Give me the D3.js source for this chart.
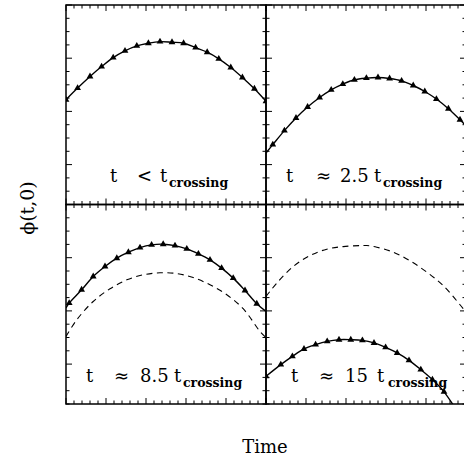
<!DOCTYPE html>
<html><head><meta charset="utf-8">
<script src="https://cdn.jsdelivr.net/npm/d3@7"></script>
<style>html,body{margin:0;padding:0;background:#fff;overflow:hidden}</style>
</head><body>
<svg id="c" width="464" height="462"></svg>
<script>
// Panel A: t < t_crossing (solid with triangles)
const aX = [0, 0.29, 0.6, 0.89, 1.18, 1.475, 1.77, 2.06, 2.35, 2.65, 2.94, 3.24, 3.53, 3.82, 4.12, 4.41, 4.71, 5.0];
const aY = [2.22, 2.438, 2.656, 2.843, 3.012, 3.138, 3.231, 3.282, 3.312, 3.30, 3.282, 3.199, 3.113, 2.988, 2.826, 2.638, 2.425, 2.19];
// Panel B: t ~ 2.5 t_crossing
const bX = [0.17, 0.46, 0.75, 1.04, 1.34, 1.63, 1.92, 2.21, 2.51, 2.80, 3.09, 3.39, 3.68, 3.97, 4.26, 4.56, 4.85];
const bY = [1.375, 1.638, 1.876, 2.082, 2.262, 2.406, 2.513, 2.594, 2.626, 2.637, 2.618, 2.575, 2.487, 2.374, 2.232, 2.05, 1.844];
const bLineX = [0, 5];
const bLineY = [1.219, 1.73];
// Panel C: t ~ 8.5 t_crossing
const cX = [0.08, 0.39, 0.68, 0.975, 1.27, 1.56, 1.85, 2.14, 2.43, 2.725, 3.02, 3.31, 3.6, 3.89, 4.18, 4.475, 4.77];
const cY = [2.147, 2.397, 2.646, 2.834, 2.991, 3.104, 3.19, 3.241, 3.254, 3.227, 3.166, 3.072, 2.959, 2.804, 2.616, 2.384, 2.134];
const cLineX = [0, 5];
const cLineY = [2.054, 1.99];
const cDashX = [0, 0.27, 0.68, 1.1, 1.52, 1.93, 2.35, 2.77, 3.18, 3.6, 4.02, 4.43, 4.85, 5.0];
const cDashY = [1.521, 1.834, 2.177, 2.416, 2.584, 2.678, 2.716, 2.702, 2.627, 2.491, 2.303, 2.041, 1.615, 1.5];
// Panel D: t ~ 15 t_crossing
const dX = [0, 0.37, 0.66, 0.95, 1.24, 1.53, 1.825, 2.12, 2.41, 2.7, 2.99, 3.28, 3.575, 3.87, 4.16, 4.45];
const dY = [0.771, 0.991, 1.146, 1.285, 1.366, 1.427, 1.459, 1.459, 1.446, 1.398, 1.315, 1.21, 1.071, 0.897, 0.709, 0.479];
const dLineX = [4.75];
const dLineY = [0.15];
const dDashX = [0, 0.27, 0.68, 1.1, 1.52, 1.93, 2.35, 2.52, 2.77, 3.18, 3.6, 4.02, 4.43, 4.85, 5.0];
const dDashY = [2.271, 2.523, 2.834, 3.04, 3.16, 3.209, 3.228, 3.228, 3.197, 3.104, 2.941, 2.729, 2.477, 2.116, 1.975];

const labels = [
  {t: "t", rel: "<", num: "", sub: "crossing"},
  {t: "t", rel: "\u2248", num: "2.5", sub: "crossing"},
  {t: "t", rel: "\u2248", num: "8.5", sub: "crossing"},
  {t: "t", rel: "\u2248", num: "15", sub: "crossing"}
];
const xLabel = "Time";
const yLabel = "\u03d5(t,0)";

// label piece positions (px from panel left): t, relation, number, t, subscript
const labPos = [
  [44, 71, 0, 94, 103],
  [20, 50, 74, 108, 117],
  [20, 48, 74, 108, 117],
  [25, 53, 79, 111, 122]
];

const zip = (xs, ys) => xs.map((x, i) => [x, ys[i]]);
const panels = [
  {col: 0, row: 0, markers: zip(aX, aY), solid: zip(aX, aY), dash: null, lab: labels[0]},
  {col: 1, row: 0, markers: zip(bX, bY), solid: zip(bLineX.slice(0,1).concat(bX, bLineX.slice(1)), bLineY.slice(0,1).concat(bY, bLineY.slice(1))), dash: null, lab: labels[1]},
  {col: 0, row: 1, markers: zip(cX, cY), solid: zip(cLineX.slice(0,1).concat(cX, cLineX.slice(1)), cLineY.slice(0,1).concat(cY, cLineY.slice(1))), dash: zip(cDashX, cDashY), lab: labels[2]},
  {col: 1, row: 1, markers: zip(dX, dY), solid: zip(dX.concat(dLineX), dY.concat(dLineY)), dash: zip(dDashX, dDashY), lab: labels[3]}
];

const svg = d3.select("#c");
const L = 66, T = 5, PW = 200, PH = 199.5;
const font = "'DejaVu Serif', serif";

const defs = svg.append("defs");
panels.forEach((p, i) => {
  defs.append("clipPath").attr("id", "clip" + i).append("rect")
    .attr("x", 0).attr("y", 0).attr("width", PW).attr("height", PH);
});

const x = d3.scaleLinear().domain([0, 5]).range([0, PW]);
const y = d3.scaleLinear().domain([0.25, 4]).range([PH, 0]);
const line = d3.line().x(d => x(d[0])).y(d => y(d[1])).curve(d3.curveCatmullRom.alpha(0.5));
const tri = d3.symbol().type(d3.symbolTriangle).size(20);

panels.forEach((p, i) => {
  const g = svg.append("g").attr("transform", `translate(${L + p.col * PW},${T + p.row * PH})`);
  const inner = g.append("g").attr("clip-path", `url(#clip${i})`);
  if (p.dash) {
    inner.append("path").attr("d", line(p.dash)).attr("fill", "none")
      .attr("stroke", "#000").attr("stroke-width", 1.1).attr("stroke-dasharray", "6,4.5");
  }
  inner.append("path").attr("d", line(p.solid)).attr("fill", "none")
    .attr("stroke", "#000").attr("stroke-width", 1.4);
  inner.selectAll("path.m").data(p.markers).enter().append("path").attr("class", "m")
    .attr("d", tri).attr("transform", d => `translate(${x(d[0])},${y(d[1])})`).attr("fill", "#000");

  // ticks
  const xt = d3.range(0, 26).map(k => k * 0.2);
  const yt = d3.range(0, 16).map(k => 0.25 + k * 0.25);
  const tg = g.append("g").attr("stroke", "#000").attr("stroke-width", 1);
  xt.forEach(v => {
    const major = Math.abs(v - Math.round(v)) < 1e-6;
    const len = major ? 6 : 3.5;
    tg.append("line").attr("x1", x(v)).attr("x2", x(v)).attr("y1", PH).attr("y2", PH - len);
    tg.append("line").attr("x1", x(v)).attr("x2", x(v)).attr("y1", 0).attr("y2", len);
  });
  yt.forEach(v => {
    const major = Math.abs(v - Math.round(v)) < 1e-6;
    const len = major ? 6 : 3.5;
    tg.append("line").attr("y1", y(v)).attr("y2", y(v)).attr("x1", 0).attr("x2", len);
    tg.append("line").attr("y1", y(v)).attr("y2", y(v)).attr("x1", PW).attr("x2", PW - len);
  });
  g.append("rect").attr("x", 0).attr("y", 0).attr("width", PW).attr("height", PH)
    .attr("fill", "none").attr("stroke", "#000").attr("stroke-width", 1.5);

  // label
  const pos = labPos[i];
  const lg = g.append("g").attr("font-family", font).attr("fill", "#000");
  lg.append("text").attr("x", pos[0]).attr("y", 177).attr("font-size", 18).text(p.lab.t);
  lg.append("text").attr("x", pos[1]).attr("y", 177).attr("font-size", 18).text(p.lab.rel);
  if (p.lab.num) lg.append("text").attr("x", pos[2]).attr("y", 177).attr("font-size", 18).text(p.lab.num);
  lg.append("text").attr("x", pos[3]).attr("y", 177).attr("font-size", 18).text(p.lab.t);
  lg.append("text").attr("x", pos[4]).attr("y", 182).attr("font-size", 12.5).attr("font-weight", "bold").text(p.lab.sub);
});

svg.append("text").attr("x", 265).attr("y", 453).attr("text-anchor", "middle")
  .attr("font-family", font).attr("font-size", 18).text(xLabel);
svg.append("text").attr("transform", "translate(34,208) rotate(-90)").attr("text-anchor", "middle")
  .attr("font-family", font).attr("font-size", 19).text(yLabel);
</script>
</body></html>
